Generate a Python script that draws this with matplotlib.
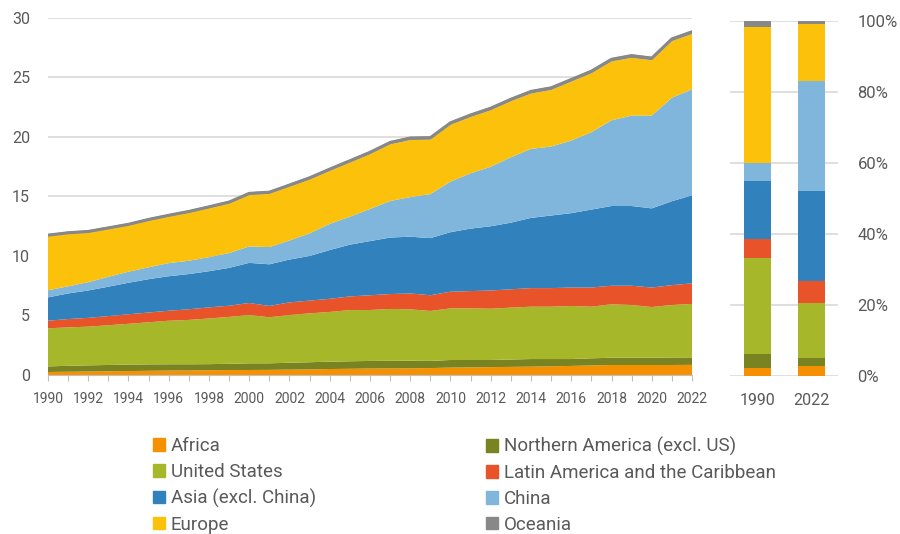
import numpy as np
import matplotlib.pyplot as plt
from matplotlib.patches import Patch

plt.rcParams['font.family'] = ['Roboto', 'DejaVu Sans']

# yearly values per region
years = np.arange(1990, 2023)
africa = [0.25, 0.27, 0.29, 0.31, 0.33, 0.35, 0.37, 0.38, 0.40, 0.41, 0.42, 0.43, 0.45, 0.47, 0.50, 0.52, 0.54,
          0.55, 0.56, 0.58, 0.62, 0.64, 0.66, 0.68, 0.70, 0.73, 0.76, 0.80, 0.84, 0.84, 0.84, 0.84, 0.85]
n_america = [0.47, 0.50, 0.52, 0.53, 0.54, 0.54, 0.53, 0.52, 0.51, 0.53, 0.56, 0.55, 0.58, 0.60, 0.62, 0.63, 0.64,
             0.64, 0.64, 0.60, 0.64, 0.62, 0.60, 0.62, 0.64, 0.61, 0.58, 0.60, 0.61, 0.61, 0.61, 0.63, 0.63]
usa = [3.20, 3.23, 3.25, 3.34, 3.43, 3.54, 3.66, 3.73, 3.84, 3.94, 4.06, 3.87, 4.01, 4.11, 4.18, 4.30, 4.28,
       4.36, 4.32, 4.20, 4.34, 4.34, 4.31, 4.36, 4.40, 4.40, 4.46, 4.34, 4.49, 4.43, 4.26, 4.41, 4.49]
latam = [0.64, 0.70, 0.74, 0.77, 0.80, 0.82, 0.84, 0.89, 0.93, 0.94, 1.01, 0.95, 1.06, 1.07, 1.10, 1.15, 1.24,
         1.25, 1.33, 1.32, 1.40, 1.45, 1.53, 1.54, 1.56, 1.56, 1.55, 1.61, 1.56, 1.62, 1.64, 1.67, 1.73]
asia = [1.96, 2.15, 2.30, 2.47, 2.65, 2.80, 2.90, 2.96, 3.04, 3.18, 3.37, 3.50, 3.60, 3.75, 4.10, 4.35, 4.55,
        4.75, 4.77, 4.80, 5.00, 5.25, 5.40, 5.60, 5.90, 6.10, 6.25, 6.55, 6.70, 6.70, 6.65, 7.05, 7.40]
china = [0.60, 0.60, 0.70, 0.83, 0.93, 1.00, 1.10, 1.12, 1.18, 1.25, 1.38, 1.45, 1.60, 1.90, 2.20, 2.35, 2.70,
         3.07, 3.33, 3.70, 4.25, 4.65, 5.00, 5.50, 5.80, 5.80, 6.10, 6.50, 7.20, 7.60, 7.80, 8.70, 8.90]
europe = [4.53, 4.40, 4.15, 4.00, 3.87, 3.90, 3.90, 4.02, 4.10, 4.15, 4.32, 4.47, 4.52, 4.52, 4.45, 4.55, 4.60,
          4.76, 4.80, 4.58, 4.77, 4.73, 4.75, 4.70, 4.65, 4.75, 4.95, 4.95, 4.95, 4.85, 4.65, 4.75, 4.65]
oceania = [0.20, 0.20, 0.21, 0.21, 0.21, 0.22, 0.22, 0.22, 0.23, 0.23, 0.24, 0.24, 0.24, 0.25, 0.25, 0.25, 0.26,
           0.26, 0.26, 0.26, 0.27, 0.27, 0.27, 0.27, 0.28, 0.28, 0.28, 0.28, 0.28, 0.29, 0.28, 0.29, 0.29]

labels = ['Africa', 'Northern America (excl. US)', 'United States', 'Latin America and the Caribbean',
          'Asia (excl. China)', 'China', 'Europe', 'Oceania']
colors = ['#F59100', '#7A8321', '#A6B72A', '#E8532A', '#3181BD', '#81B6DC', '#FCC10A', '#888888']
series = [africa, n_america, usa, latam, asia, china, europe, oceania]

bar_years = [1990, 2022]

txt = '#595959'
grid_c = '#D9D9D9'

fig = plt.figure(figsize=(9, 5.34), dpi=100)

# stacked area
ax = fig.add_axes([0.0533, 0.2978, 0.7156, 0.6685])
ax.stackplot(years, *series, colors=colors, labels=labels, linewidth=0)
# the oceania band shows as a thick grey rim on top
ax.plot(years, np.sum(series, axis=0) - 0.1, color='#888888', lw=2.2, solid_joinstyle='round')
ax.set_xlim(1990, 2022)
ax.set_ylim(0, 30)
ax.set_yticks(range(0, 31, 5))
ax.set_xticks(years)
ax.set_xticklabels([str(y) if y % 2 == 0 else '' for y in years])
ax.grid(axis='y', color=grid_c, lw=1.2)
ax.set_axisbelow(True)
for s in ['top', 'right', 'left']:
    ax.spines[s].set_visible(False)
ax.spines['bottom'].set_color('#BFBFBF')
ax.tick_params(axis='y', length=0, pad=13, labelsize=11.5, labelcolor=txt)
ax.tick_params(axis='x', length=4, color='#BFBFBF', pad=8, labelsize=10, labelcolor=txt)

# 100% stacked bars for first and last year
bax = fig.add_axes([0.8111, 0.296, 0.12, 0.665])
idx = [list(years).index(y) for y in bar_years]
totals = np.array([sum(s[i] for s in series) for i in idx])
bottom = np.zeros(2)
for s, c in zip(series, colors):
    share = np.array([s[i] for i in idx]) / totals
    bax.bar([0, 1], share, 0.5, bottom=bottom, color=c, linewidth=0)
    bottom += share
bax.set_xlim(-0.5, 1.48)
bax.set_ylim(0, 1)
bax.set_yticks(np.arange(0, 1.01, 0.2))
bax.set_yticklabels([f'{int(round(v * 100))}%' for v in np.arange(0, 1.01, 0.2)])
bax.set_xticks([0, 1])
bax.set_xticklabels([str(y) for y in bar_years])
bax.yaxis.tick_right()
bax.grid(axis='y', color=grid_c, lw=1.2)
bax.set_axisbelow(True)
for s in bax.spines.values():
    s.set_visible(False)
bax.tick_params(axis='y', length=0, pad=14, labelsize=12, labelcolor=txt)
bax.tick_params(axis='x', length=0, pad=12, labelsize=11.5, labelcolor=txt)

# legend in two columns
handles = [Patch(color=c, label=l) for c, l in zip(colors, labels)]
for col, x0 in [(0, 153 / 900), (1, 486 / 900)]:
    fig.legend(handles=handles[col::2], loc='upper left', bbox_to_anchor=(x0, 1 - 437 / 534),
               frameon=False, fontsize=13.5, labelcolor=txt, handlelength=0.65, handleheight=0.65,
               handletextpad=0.3, labelspacing=0.42, borderpad=0, borderaxespad=0)

fig.savefig('out.png', dpi=100)
